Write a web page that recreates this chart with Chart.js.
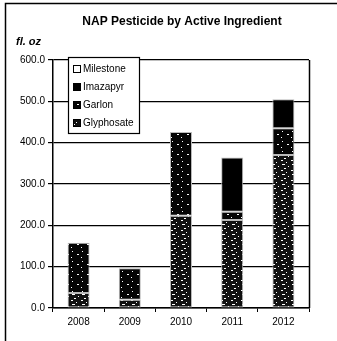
<!DOCTYPE html>
<html>
<head>
<meta charset="utf-8">
<script src="https://cdn.jsdelivr.net/npm/chart.js@4"></script>
<style>
  html, body { margin: 0; padding: 0; background: #fff; }
  #wrap { width: 337px; height: 341px; position: relative; }
</style>
</head>
<body>
<div id="wrap"><canvas id="myChart" width="337" height="341"></canvas></div>
<script>
var years = ["2008", "2009", "2010", "2011", "2012"];
var milestone = [0, 0, 0, 0, 0];
var imazapyr = [0, 0, 0, 131, 70];
var garlon = [122, 76, 203, 20, 65];
var glyphosate = [36, 20, 223, 213, 370];
var yTicks = [0, 100, 200, 300, 400, 500, 600];

// small tiled fills so the bars get the grainy print look
function makeTile(bg, dots) {
	var c = document.createElement("canvas");
	c.width = 10; c.height = 10;
	var g = c.getContext("2d");
	g.fillStyle = bg;
	g.fillRect(0, 0, 10, 10);
	g.fillStyle = "#ffffff";
	dots.forEach(function(d) { g.fillRect(d[0], d[1], d[2], 1); });
	return g.createPattern(c, "repeat");
}

var ctx = document.getElementById("myChart").getContext("2d");

var glyphFill = makeTile("#111111", [[1, 0, 2], [6, 2, 1], [2, 4, 3], [8, 6, 1], [4, 8, 2]]);
var garlonFill = makeTile("#050505", [[2, 1, 1], [7, 4, 2], [1, 7, 1]]);
var imazFill = "#000000";

var seriesList = [
	{ label: "Glyphosate", data: glyphosate, fill: glyphFill },
	{ label: "Garlon", data: garlon, fill: garlonFill },
	{ label: "Imazapyr", data: imazapyr, fill: imazFill },
	{ label: "Milestone", data: milestone, fill: "#ffffff" }
];

var frameAndText = {
	id: "frameAndText",
	afterDraw: function(chart) {
		var c = chart.ctx, a = chart.chartArea;
		c.save();
		// outer frame, top and left
		c.strokeStyle = "#000";
		c.lineWidth = 1.5;
		c.beginPath();
		c.moveTo(337, 3.5);
		c.lineTo(5.5, 3.5);
		c.lineTo(5.5, 341);
		c.stroke();
		// right edge of plot
		c.beginPath();
		c.moveTo(a.right + 0.5, a.top);
		c.lineTo(a.right + 0.5, a.bottom);
		c.stroke();

		c.fillStyle = "#000";
		c.textBaseline = "middle";
		c.textAlign = "center";
		c.font = "bold 12px 'Liberation Sans', Arial, sans-serif";
		c.fillText("NAP Pesticide by Active Ingredient", 182, 22);
		c.textAlign = "left";
		c.font = "italic bold 11px 'Liberation Sans', Arial, sans-serif";
		c.fillText("fl. oz", 16, 42);

		// legend box inside the plot
		var lx = 68.5, ly = 57.5, lw = 71, lh = 76;
		c.fillStyle = "#fff";
		c.fillRect(lx, ly, lw, lh);
		c.lineWidth = 1.2;
		c.strokeRect(lx, ly, lw, lh);
		c.font = "10px 'Liberation Sans', Arial, sans-serif";
		var order = seriesList.slice().reverse();
		order.forEach(function(s, i) {
			var yy = 69 + i * 18;
			c.fillStyle = s.fill;
			c.fillRect(73, yy - 3.5, 7, 7);
			c.lineWidth = 1;
			c.strokeStyle = "#000";
			c.strokeRect(73.5, yy - 3.5, 7, 7);
			c.fillStyle = "#000";
			c.fillText(s.label, 83, yy);
		});
		c.restore();
	}
};

var myChart = new Chart(ctx, {
	type: "bar",
	data: {
		labels: years,
		datasets: seriesList.map(function(s) {
			return {
				label: s.label,
				data: s.data,
				backgroundColor: s.fill,
				borderColor: "#bbbbbb",
				borderWidth: 1,
				borderSkipped: false,
				categoryPercentage: 0.86,
				barPercentage: 0.5
			};
		})
	},
	options: {
		responsive: false,
		animation: false,
		layout: { padding: { top: 60, right: 28, left: 0, bottom: 0 } },
		plugins: {
			legend: { display: false },
			title: { display: false },
			tooltip: { enabled: false }
		},
		scales: {
			x: {
				stacked: true,
				grid: { drawOnChartArea: false, drawTicks: true, tickLength: 4, color: "#000", lineWidth: 1 },
				border: { color: "#000", width: 1.5 },
				ticks: {
					color: "#000",
					padding: 4,
					font: { family: "'Liberation Sans', Arial, sans-serif", size: 10 },
					maxRotation: 0
				},
				afterFit: function(scale) { scale.height = 33; }
			},
			y: {
				stacked: true,
				min: 0,
				max: 600,
				afterBuildTicks: function(scale) {
					scale.ticks = yTicks.map(function(v) { return { value: v }; });
				},
				grid: { color: "#000", lineWidth: 1.2, tickLength: 5, drawTicks: true },
				border: { color: "#000", width: 1.5 },
				ticks: {
					color: "#000",
					padding: 3,
					font: { family: "'Liberation Sans', Arial, sans-serif", size: 10 },
					callback: function(v) { return Number(v).toFixed(1); }
				},
				afterFit: function(scale) { scale.width = 53; }
			}
		}
	},
	plugins: [frameAndText]
});
</script>
</body>
</html>
